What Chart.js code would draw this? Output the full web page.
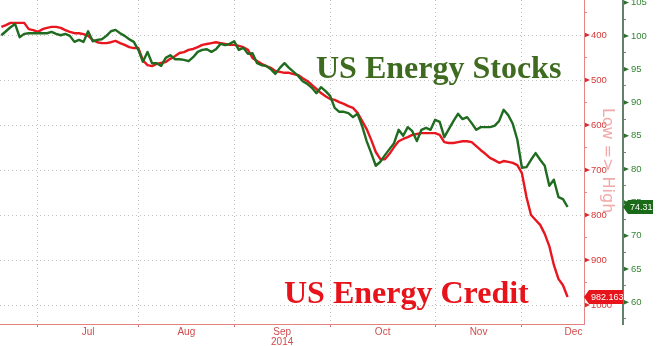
<!DOCTYPE html>
<html>
<head>
<meta charset="utf-8">
<script src="https://cdn.jsdelivr.net/npm/chart.js@4/dist/chart.umd.min.js"></script>
<style>
html,body{margin:0;padding:0;background:#fff;overflow:hidden}
#wrap{width:660px;height:346px;position:relative}
canvas{display:block}
</style>
</head>
<body>
<div id="wrap"><canvas id="c" width="660" height="346"></canvas></div>
<script>
// ---- Data (one value per trading day, 19 Jun 2014 .. 11 Dec 2014) ----
const creditValues = [
  382,378,373,373,373,373,387,389,393,387,
  384,382,382,384,389,393,396,396,398,402,
  411,416,418,418,416,413,418,422,427,429,
  429,456,467,469,464,462,460,453,447,440,
  438,433,431,427,422,420,418,416,418,420,
  422,422,424,427,433,451,458,464,469,473,
  480,482,484,484,487,489,496,502,511,520,
  529,536,542,544,549,553,558,562,573,591,
  609,633,660,676,676,664,649,636,631,627,
  622,620,618,618,618,618,622,638,640,640,
  638,636,636,638,647,656,664,673,678,684,
  680,682,684,689,707,760,800,811,822,842,
  869,911,942,956,982.163
];
const stockValues = [
  100.1,100.7,101.3,101.8,99.8,100.3,100.4,100.4,100.4,100.4,
  100.4,100.6,100.3,100.1,100.3,100.0,99.1,99.4,99.1,100.7,
  99.2,99.4,99.5,100.0,100.7,100.9,100.4,100.0,99.5,99.1,
  97.9,96.1,97.6,95.9,95.9,95.5,96.7,97.1,96.5,96.5,
  96.4,96.2,96.8,97.6,97.9,98.0,97.6,98.0,98.8,98.6,
  98.8,99.2,97.9,98.2,97.3,97.4,95.9,95.6,95.5,95.0,
  94.3,95.2,95.9,95.2,94.6,94.0,93.2,92.8,92.2,91.4,
  92.3,91.7,91.0,89.2,88.6,88.6,88.4,87.8,88.3,86.5,
  84.2,82.4,80.5,81.1,82.1,83.0,83.9,85.9,85.0,86.3,
  85.7,84.2,85.9,86.2,85.9,87.4,87.1,84.8,86.0,87.2,
  88.3,87.5,87.8,86.9,85.9,86.3,86.3,86.3,86.5,87.2,
  88.9,88.1,86.8,84.4,80.2,80.3,81.4,82.4,81.4,80.5,
  77.5,78.4,75.8,75.5,74.31
];
const monthNames = ['Jul','Aug','Sep','Oct','Nov','Dec'];
const monthStarts = [8,30,51,72,95,114];          // trading-day index of first day of month
const monthLabelPos = [19,40.5,61.5,83.5,104.5,125.3];
const yearLabel = '2014';
const yearUnderMonth = 2; // under "Sep"
const creditTicks = [400,500,600,700,800,900,1000];
const stockTicks = [60,65,70,75,80,85,90,95,100,105];
const seriesNames = ['US Energy Stocks','US Energy Credit'];
const axisTitle = 'Low => High';

const RED = '#e8161e', GREEN = '#1f6b1f';
const SMALL = "'Liberation Sans','Arial',sans-serif";

const annotations = {
  id: 'annotations',
  afterDatasetsDraw(chart) {
    const ctx = chart.ctx;
    ctx.save();
    ctx.textBaseline = 'alphabetic';
    ctx.textAlign = 'left';
    ctx.font = "bold 32px 'Liberation Serif', serif";
    ctx.fillStyle = '#3e6b20';
    ctx.fillText(seriesNames[0], 316, 78);
    ctx.fillStyle = '#e8121a';
    ctx.fillText(seriesNames[1], 284, 303);
    ctx.restore();
  },
  afterDraw(chart) {
    const ctx = chart.ctx;
    const yc = chart.scales.yCredit, ys = chart.scales.yStocks;
    ctx.save();
    // rotated axis note
    ctx.save();
    ctx.translate(603, 108);
    ctx.rotate(Math.PI / 2);
    ctx.font = "16px 'DejaVu Sans', sans-serif";
    ctx.fillStyle = '#f2a9a9';
    ctx.textBaseline = 'alphabetic';
    ctx.textAlign = 'left';
    ctx.fillText(axisTitle, 0, 0);
    ctx.restore();
    // triangles at labelled ticks
    creditTicks.forEach(v => {
      const y = yc.getPixelForValue(v);
      ctx.beginPath(); ctx.moveTo(yc.left + 1, y - 2.2); ctx.lineTo(yc.left + 6, y); ctx.lineTo(yc.left + 1, y + 2.2); ctx.closePath();
      ctx.fillStyle = '#e0262e'; ctx.fill();
    });
    stockTicks.forEach(v => {
      const y = ys.getPixelForValue(v);
      ctx.beginPath(); ctx.moveTo(ys.left + 1, y - 2.2); ctx.lineTo(ys.left + 6, y); ctx.lineTo(ys.left + 1, y + 2.2); ctx.closePath();
      ctx.fillStyle = '#2c6e2c'; ctx.fill();
    });
    // last value boxes
    const lastC = creditValues[creditValues.length - 1];
    const lastS = stockValues[stockValues.length - 1];
    let y = yc.getPixelForValue(lastC);
    ctx.beginPath();
    ctx.moveTo(yc.left, y); ctx.lineTo(yc.left + 5, y - 7); ctx.lineTo(yc.right, y - 7);
    ctx.lineTo(yc.right, y + 7); ctx.lineTo(yc.left + 5, y + 7); ctx.closePath();
    ctx.fillStyle = '#e8141c'; ctx.fill();
    ctx.fillStyle = '#fff'; ctx.font = "9px " + SMALL; ctx.textBaseline = 'middle'; ctx.textAlign = 'left';
    ctx.fillText(String(lastC), yc.left + 7, y + 0.5);
    y = ys.getPixelForValue(lastS);
    ctx.beginPath();
    ctx.moveTo(ys.left, y); ctx.lineTo(ys.left + 5, y - 7); ctx.lineTo(ys.left + 30, y - 7);
    ctx.lineTo(ys.left + 30, y + 7); ctx.lineTo(ys.left + 5, y + 7); ctx.closePath();
    ctx.fillStyle = '#1a6a1a'; ctx.fill();
    ctx.fillStyle = '#fff';
    ctx.fillText(lastS.toFixed(2), ys.left + 7, y + 0.5);
    ctx.restore();
  }
};

const toPts = arr => arr.map((v, i) => ({ x: i, y: v }));
const noPad = s => { s.paddingTop = 0; s.paddingBottom = 0; s.paddingLeft = 0; s.paddingRight = 0; };

new Chart(document.getElementById('c'), {
  type: 'line',
  data: {
    datasets: [
      { label: seriesNames[0], data: toPts(stockValues), yAxisID: 'yStocks', borderColor: GREEN,
        borderWidth: 2.4, pointRadius: 0, tension: 0, borderJoinStyle: 'round', fill: false },
      { label: seriesNames[1], data: toPts(creditValues), yAxisID: 'yCredit', borderColor: RED,
        borderWidth: 2.4, pointRadius: 0, tension: 0, borderJoinStyle: 'round', fill: false }
    ]
  },
  options: {
    responsive: false,
    animation: false,
    devicePixelRatio: 1,
    layout: { padding: 0 },
    plugins: { legend: { display: false }, tooltip: { enabled: false } },
    scales: {
      x: {
        type: 'linear', position: 'bottom', min: -0.3, max: 127.6,
        afterBuildTicks(s) {
          s.ticks = monthStarts.concat(monthLabelPos).sort((a, b) => a - b).map(v => ({ value: v }));
        },
        afterFit(s) { s.height = 22; noPad(s); },
        ticks: {
          autoSkip: false, maxRotation: 0, minRotation: 0, padding: 0, color: '#d24b4b',
          font: { family: SMALL, size: 10, lineHeight: 1.0 },
          callback(v) {
            const k = monthLabelPos.indexOf(v);
            if (k < 0) return '';
            return k === yearUnderMonth ? [monthNames[k], yearLabel] : monthNames[k];
          }
        },
        grid: {
          color: ctx => (ctx.tick && monthStarts.includes(ctx.tick.value)) ? '#bdbdbd' : 'rgba(0,0,0,0)',
          tickColor: ctx => (ctx.tick && monthStarts.includes(ctx.tick.value)) ? '#d67a7a' : 'rgba(0,0,0,0)',
          tickLength: 3, lineWidth: 1
        },
        border: { color: '#e08282', width: 1, dash: [1, 3] }
      },
      yCredit: {
        type: 'linear', position: 'right', reverse: true, min: 322.2, max: 1042.2, weight: 0,
        afterBuildTicks(s) {
          const t = [];
          creditTicks.forEach(v => { t.push({ value: v }); t.push({ value: v - 50 }); });
          s.ticks = t.sort((a, b) => a.value - b.value);
        },
        afterFit(s) { s.width = 39; noPad(s); },
        ticks: {
          padding: 4, color: '#d83838', font: { family: SMALL, size: 9.5 },
          callback: v => creditTicks.includes(v) ? String(v) : ''
        },
        grid: {
          color: ctx => (ctx.tick && creditTicks.includes(ctx.tick.value)) ? '#c2c2c2' : 'rgba(0,0,0,0)',
          tickColor: '#e38a8a', tickLength: 3, lineWidth: 1
        },
        border: { color: '#e38585', width: 1, dash: [1, 3] }
      },
      yStocks: {
        type: 'linear', position: 'right', min: 56.74, max: 105.39, weight: 1,
        afterBuildTicks(s) {
          const t = [];
          stockTicks.forEach(v => { t.push({ value: v }); t.push({ value: v - 2.5 }); });
          s.ticks = t.sort((a, b) => a.value - b.value);
        },
        afterFit(s) { s.width = 37; noPad(s); },
        ticks: {
          padding: 5, color: '#348534', font: { family: SMALL, size: 9.5 },
          callback: v => stockTicks.includes(v) ? String(v) : ''
        },
        grid: { drawOnChartArea: false, tickColor: '#6c8a6c', tickLength: 3, lineWidth: 1 },
        border: { color: '#62806a', width: 2 }
      }
    }
  },
  plugins: [annotations]
});
</script>
</body>
</html>
